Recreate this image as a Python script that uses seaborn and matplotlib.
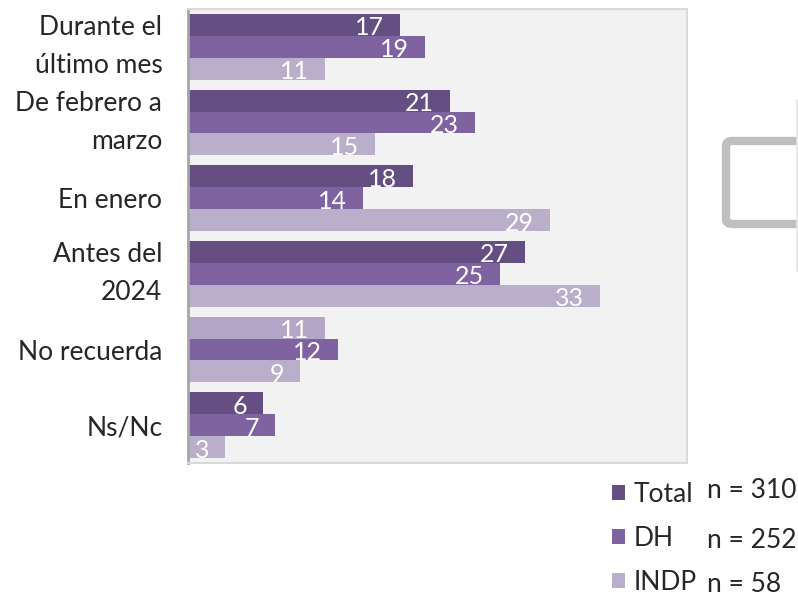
import numpy as np
import pandas as pd

import matplotlib.pyplot as plt
from matplotlib.patches import Patch, FancyBboxPatch
import seaborn as sns

sns.set_style('white')
plt.rcParams['font.family'] = ['Lato', 'DejaVu Sans']

# data
categories = ['Durante el\núltimo mes', 'De febrero a\nmarzo', 'En enero',
              'Antes del\n2024', 'No recuerda', 'Ns/Nc']
series = ['Total', 'DH', 'INDP']
total = [17, 21, 18, 27, 11, 6]
dh = [19, 23, 14, 25, 12, 7]
indp = [11, 15, 29, 33, 9, 3]
n_labels = ['n = 310', 'n = 252', 'n = 58']

colors = ['#654f82', '#7f62a0', '#b9afcb']

df = pd.DataFrame({'Categoria': categories * 3,
                   'Serie': np.repeat(series, len(categories)),
                   'Valor': total + dh + indp})

fig = plt.figure(figsize=(7.98, 5.98), dpi=100)
ax = fig.add_axes([188/798, 1-463/598, (687-188)/798, (463-9)/598])

sns.barplot(data=df, y='Categoria', x='Valor', hue='Serie', orient='h',
            palette=colors, width=0.87, ax=ax, legend=False, saturation=1,
            linewidth=0)

# lighter bar for "No recuerda" Total, as in the reference
ax.containers[0][4].set_facecolor('#b3a6c6')

for cont in ax.containers:
    for bar in cont:
        ax.annotate(f'{bar.get_width():.0f}',
                    (bar.get_width(), bar.get_y() + bar.get_height()/2),
                    xytext=(-16, -3), textcoords='offset pixels',
                    ha='right', va='center', color='white', fontsize=18)

ax.set_xlim(0, 40)
ax.set_facecolor('#f2f2f2')
ax.set_xlabel('')
ax.set_ylabel('')
ax.set_xticks([])
ax.tick_params(axis='y', length=0, pad=18.5, labelsize=19)
for lbl in ax.get_yticklabels():
    lbl.set_linespacing(1.65)
    lbl.set_ha('right')
    if '\n' in lbl.get_text():
        lbl.set_va('center')
for s in ['top', 'right', 'bottom']:
    ax.spines[s].set_visible(True)
    ax.spines[s].set_color('#d9d9d9')
    ax.spines[s].set_linewidth(1.5)
ax.spines['left'].set_color('#a6a6a6')
ax.spines['left'].set_linewidth(2)

# legend + sample sizes
handles = [Patch(facecolor=c, edgecolor='none') for c in colors]
fig.legend(handles, series, loc='upper left', bbox_to_anchor=(601/798, 1-471/598),
           frameon=False, fontsize=19, handlelength=0.52, handleheight=0.52,
           handletextpad=0.3, labelspacing=0.72, borderaxespad=0)
fig.text(707/798, 1-491/598, n_labels[0], fontsize=19, va='center')
fig.text(707/798, 1-540/598, n_labels[1], fontsize=19, va='center')
fig.text(707/798, 1-585/598, n_labels[2], fontsize=19, va='center')

# grey shape cut by the right edge
fig.patches.append(FancyBboxPatch((726/798, 1-224/598), 120/798, 83/598,
                                  boxstyle='round,pad=0,rounding_size=0.008',
                                  transform=fig.transFigure, facecolor='none',
                                  edgecolor='#bfbfbf', linewidth=6))
fig.lines.append(plt.Line2D([797/798, 797/798], [1-100/598, 1-270/598],
                            transform=fig.transFigure, color='#e6e6e6', linewidth=2))

fig.savefig('out.png', dpi=100)
